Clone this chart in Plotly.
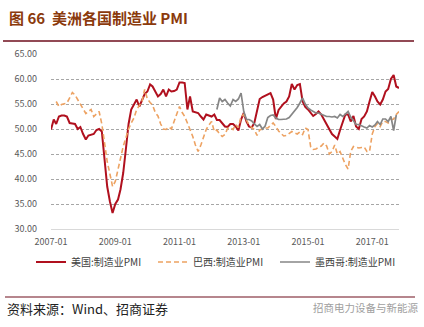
import pandas as pd
import plotly.graph_objects as go

# ---- data (monthly PMI) ----
us_start = "2007-01-01"
us_pmi = [
    49.9, 51.9, 51.0, 52.5, 52.7, 52.7, 52.5, 51.2, 51.1, 51.0, 50.0, 50.4,
    49.0, 47.9, 48.7, 48.9, 49.0, 49.8, 50.0, 49.5, 43.5, 38.5, 35.5, 33.2,
    35.0, 35.9, 37.9, 41.2, 45.9, 51.0, 53.9, 55.0, 55.9, 54.5, 55.8, 57.0,
    57.5, 58.9, 58.5, 57.5, 56.5, 57.0, 57.9, 56.5, 57.9, 57.5, 57.6, 57.9,
    59.3, 59.3, 59.2, 53.9, 56.5, 53.5, 53.3, 53.2, 52.5, 51.9, 52.9, 52.7,
    52.5, 52.9, 51.8, 51.8, 51.2, 50.5, 50.4, 51.0, 51.0, 50.5, 49.7, 51.9,
    53.2, 51.5, 50.5, 50.3, 51.2, 54.0, 56.0, 56.4, 56.7, 56.9, 57.2, 55.9,
    52.0, 53.8, 54.5, 55.1, 55.5, 56.5, 59.0, 57.9, 58.8, 59.0, 55.5, 54.4,
    53.9, 53.3, 52.6, 53.0, 53.5, 52.9, 52.0, 50.9, 49.9, 49.0, 48.5, 48.0,
    49.8, 51.5, 52.9, 52.9, 51.5, 52.6, 50.5, 50.0, 52.0, 52.5, 53.5, 55.5,
    57.4, 56.5, 55.5, 54.9, 55.9, 57.5, 58.0, 60.0, 60.8, 58.5, 58.2,
]
br_start = "2007-03-01"
br_pmi = [
    55.5, 54.5, 54.9, 55.0, 55.2, 56.2, 57.3, 56.8, 55.9, 54.9,
    54.0, 53.1, 53.5, 53.9, 52.5, 53.0, 53.5, 51.0, 47.0, 43.5, 41.0, 38.5,
    39.5, 41.8, 44.5, 46.5, 48.2, 50.0, 51.2, 52.2, 53.9, 54.8, 55.5, 57.9,
    56.0, 55.3, 54.8, 53.3, 52.6, 51.0, 50.0, 49.9, 50.4, 50.0, 51.5, 53.0,
    54.5, 53.3, 52.5, 51.2, 50.0, 48.5, 46.8, 45.5, 46.8, 48.3, 49.9, 50.8,
    51.5, 49.5, 49.8, 49.0, 48.5, 48.9, 50.1, 50.3, 49.9, 50.9, 50.3, 52.5,
    52.9, 51.8, 50.8, 50.3, 49.9, 48.7, 49.8, 50.0, 50.2, 50.2, 50.7, 51.2,
    50.5, 49.6, 49.1, 48.6, 48.7, 49.2, 49.5, 49.2, 49.0, 49.4, 48.9, 50.2,
    49.9, 46.4, 45.9, 46.0, 46.3, 46.6, 47.2, 46.6, 45.0, 45.5, 46.8, 45.0,
    45.5, 44.0, 42.9, 42.0, 45.5, 46.5, 46.4, 46.2, 46.3, 46.4, 45.5, 45.5,
    49.0, 50.5, 51.1, 50.5, 51.5, 51.5, 51.2, 51.8, 52.0, 52.9, 53.5,
]
mx_start = "2012-03-01"
mx_pmi = [
    53.9, 56.2, 55.5, 55.9, 55.2, 54.6, 55.9, 55.5, 56.0, 57.2,
    53.5, 51.9, 51.9, 51.6, 51.0, 50.5, 50.9, 50.0, 50.6, 52.3, 52.7, 52.8,
    52.2, 51.9, 51.9, 52.0, 52.0, 52.3, 52.9, 53.5, 54.3, 55.2, 56.2, 55.0,
    54.2, 53.8, 53.5, 53.2, 53.2, 53.0, 52.8, 52.5, 52.5, 52.4, 52.5, 52.2,
    52.9, 52.5, 53.0, 53.5, 52.4, 51.6, 50.9, 50.9, 50.6, 50.4, 50.2, 50.7,
    50.4, 50.8, 51.5, 50.9, 52.0, 52.0, 51.5, 52.5, 49.7, 52.8,
]
series_names = ["美国:制造业PMI", "巴西:制造业PMI", "墨西哥:制造业PMI"]
y_ticks = [30, 35, 40, 45, 50, 55, 60, 65]

def months(start, n):
    return pd.date_range(start, periods=n, freq="MS")

W, H = 424, 327
L, R, T, B = 51, 25, 54, 98
pw, ph = W - L - R, H - T - B
def px(x):
    return (x - L) / pw
def py(y):
    return (H - B - y) / ph

fig = go.Figure()
fig.add_trace(go.Scatter(x=months(us_start, len(us_pmi)), y=us_pmi, mode="lines",
                         name=series_names[0], line=dict(color="#B0101E", width=2)))
fig.add_trace(go.Scatter(x=months(br_start, len(br_pmi)), y=br_pmi, mode="lines",
                         name=series_names[1], line=dict(color="#EDA262", width=1.6, dash="5px,3px")))
fig.add_trace(go.Scatter(x=months(mx_start, len(mx_pmi)), y=mx_pmi, mode="lines",
                         name=series_names[2], line=dict(color="#868686", width=1.7)))

tick_font = dict(family="Noto Sans CJK SC, DejaVu Sans", size=9, color="#595959")
fig.update_layout(
    width=W, height=H,
    margin=dict(l=L, r=R, t=T, b=B, pad=0),
    paper_bgcolor="white", plot_bgcolor="white",
    showlegend=True,
    legend=dict(orientation="h", x=px(31), xanchor="left", y=py(262), yanchor="middle",
                font=dict(family="Noto Sans CJK SC", size=10, color="#404040"),
                itemwidth=30, entrywidth=77, tracegroupgap=0, bgcolor="rgba(0,0,0,0)"),
    xaxis=dict(type="date", range=["2007-01-01", "2017-11-01"],
               tick0="2007-01-01", dtick="M24", tickformat="%Y-%m",
               showgrid=False, showline=True, linecolor="#D9D9D9", linewidth=1,
               ticks="", tickfont=tick_font, ticklabelstandoff=4, zeroline=False),
    yaxis=dict(range=[30, 65], tickvals=y_ticks, tickformat=".2f",
               showgrid=True, gridcolor="#A6A6A6", griddash="3px,2px", gridwidth=1,
               showline=False, zeroline=False, ticks="", tickfont=tick_font,
               ticklabelstandoff=13),
)

# title and decorative rules
fig.add_annotation(xref="paper", yref="paper", x=px(7), y=py(18), xanchor="left", yanchor="middle",
                   text="<b>图 66  美洲各国制造业 PMI</b>", showarrow=False,
                   font=dict(family="Noto Sans CJK SC", size=15, color="#8B3A0C"))
fig.add_shape(type="line", xref="paper", yref="paper", x0=px(3), x1=px(414), y0=py(41), y1=py(41),
              line=dict(color="#6E0E1C", width=1.5))
fig.add_shape(type="line", xref="paper", yref="paper", x0=px(5), x1=px(415), y0=py(297), y1=py(297),
              line=dict(color="#6E0E1C", width=1.2))
fig.add_annotation(xref="paper", yref="paper", x=px(5), y=py(308), xanchor="left", yanchor="middle",
                   text="资料来源：Wind、招商证券", showarrow=False,
                   font=dict(family="Noto Sans CJK SC", size=13, color="#222222"))
fig.add_annotation(xref="paper", yref="paper", x=px(311), y=py(307), xanchor="left", yanchor="middle",
                   text="招商电力设备与新能源", showarrow=False,
                   font=dict(family="Noto Sans CJK SC", size=10.5, color="#A0A0A0"))

fig.write_html("out.html")
